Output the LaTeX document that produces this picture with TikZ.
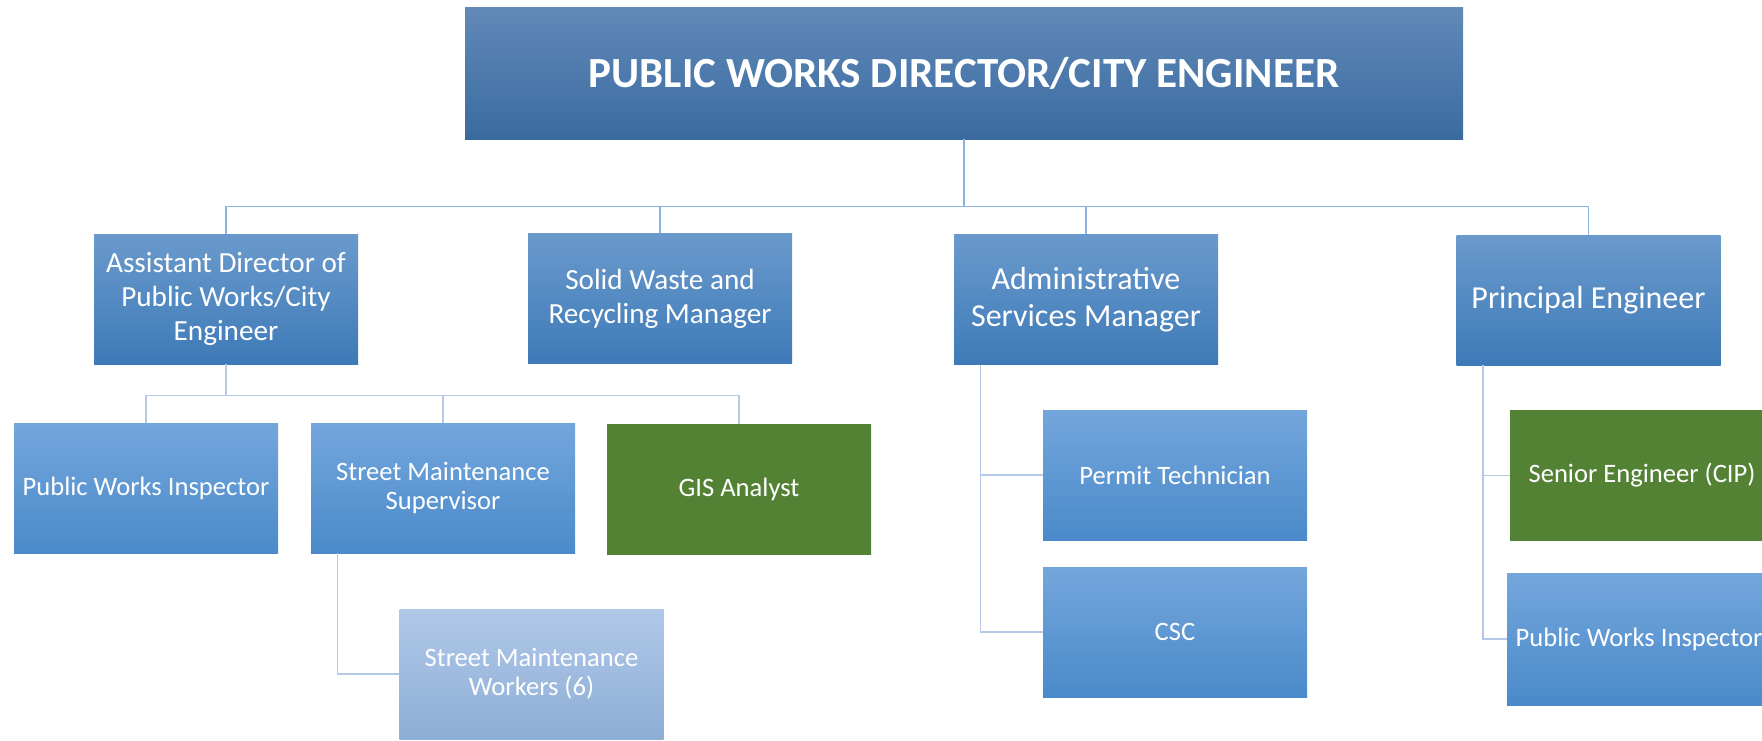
\documentclass[tikz,border=0pt]{standalone}
\usepackage{fontspec}
\setmainfont{Carlito}

\definecolor{headtop}{RGB}{97,137,184}
\definecolor{headbot}{RGB}{58,107,160}
\definecolor{mgrtop}{RGB}{106,154,204}
\definecolor{mgrbot}{RGB}{62,122,184}
\definecolor{stafftop}{RGB}{116,166,220}
\definecolor{staffbot}{RGB}{74,138,202}
\definecolor{crewtop}{RGB}{176,200,232}
\definecolor{crewbot}{RGB}{142,174,214}
\definecolor{gisgreen}{RGB}{84,130,53}
\definecolor{linkblue}{RGB}{141,179,226}
\definecolor{sublinkblue}{RGB}{180,201,232}

\tikzset{
  head/.style={rectangle,minimum width=499pt,minimum height=66pt,inner sep=0pt,
    top color=headtop,bottom color=headbot,text=white,
    font=\fontsize{21.5}{25}\selectfont\bfseries},
  mgr/.style={rectangle,minimum width=132pt,minimum height=65pt,inner sep=0pt,align=center,
    top color=mgrtop,bottom color=mgrbot,text=white,
    font=\fontsize{14.6}{17}\selectfont},
  bigmgr/.style={mgr,font=\fontsize{16}{18.5}\selectfont},
  staff/.style={rectangle,minimum width=132pt,minimum height=65pt,inner sep=0pt,align=center,
    top color=stafftop,bottom color=staffbot,text=white,
    font=\fontsize{13.3}{14.6}\selectfont},
  greenstaff/.style={staff,fill=gisgreen,top color=gisgreen,bottom color=gisgreen},
  crew/.style={staff,top color=crewtop,bottom color=crewbot},
  link/.style={draw=linkblue,line width=0.75pt},
  sublink/.style={draw=sublinkblue,line width=0.75pt}
}

\begin{document}
\begin{tikzpicture}[x=0.5pt,y=-0.5pt]
\useasboundingbox (0,0) rectangle (1762,740);
\node(director)[head] at (964,73){PUBLIC WORKS DIRECTOR/CITY ENGINEER};
\node(asst)[mgr] at (226,299){Assistant Director of\\Public Works/City\\Engineer};
\node(waste)[mgr] at (660,298.5){Solid Waste and\\Recycling Manager};
\node(admin)[bigmgr] at (1086,299.5){Administrative\\Services Manager};
\node(principal)[bigmgr] at (1588.5,300){Principal Engineer};
\node(inspector)[staff] at (146,488){Public Works Inspector};
\node(supervisor)[staff] at (443,488){Street Maintenance\\Supervisor};
\node(gis)[greenstaff] at (739,489){GIS Analyst};
\node(workers)[crew] at (531.5,674){Street Maintenance\\Workers (6)};
\node(permit)[staff] at (1175,475){Permit Technician};
\node(csc)[staff] at (1175,632){CSC};
\node(senior)[greenstaff] at (1642,475.5){Senior Engineer (CIP)};
\node(inspector2)[staff,minimum height=66pt] at (1639,639){Public Works Inspector};
\path[link] (director.south) -- ++(0,67) -| (asst.north);
\path[link] (director.south) -- ++(0,67) -| (waste.north);
\path[link] (director.south) -- ++(0,67) -| (admin.north);
\path[link] (director.south) -- ++(0,67) -| (principal.north);
\path[sublink] (asst.south) -- ++(0,31) -| (inspector.north);
\path[sublink] (asst.south) -- ++(0,31) -| (supervisor.north);
\path[sublink] (asst.south) -- ++(0,31) -| (gis.north);
\path[sublink] ([xshift=13.5pt]supervisor.south west) |- (workers.west);
\path[sublink] ([xshift=13.5pt]admin.south west) |- (permit.west);
\path[sublink] ([xshift=13.5pt]admin.south west) |- (csc.west);
\path[sublink] ([xshift=13.5pt]principal.south west) |- (senior.west);
\path[sublink] ([xshift=13.5pt]principal.south west) |- (inspector2.west);
\end{tikzpicture}
\end{document}
